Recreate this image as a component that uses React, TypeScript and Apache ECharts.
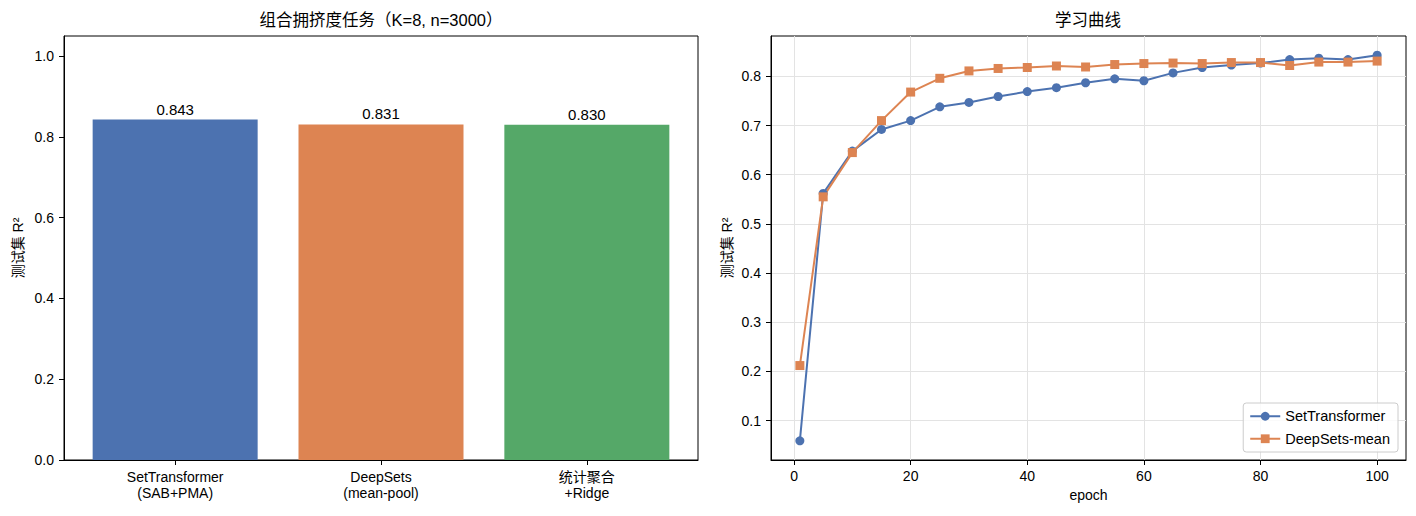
import React, { useEffect, useRef } from "react";
import * as echarts from "echarts";

const categories = ["SetTransformer\n(SAB+PMA)", "DeepSets\n(mean-pool)", "统计聚合\n+Ridge"];
const barValues = [0.843, 0.831, 0.83];
const barColors = ["#4C72B0", "#DD8452", "#55A868"];
const leftYTicks = [0, 0.2, 0.4, 0.6, 0.8, 1.0];

const epochs = [1, 5, 10, 15, 20, 25, 30, 35, 40, 45, 50, 55, 60, 65, 70, 75, 80, 85, 90, 95, 100];
const setTransformer = [0.059, 0.562, 0.648, 0.692, 0.71, 0.738, 0.747, 0.759, 0.769, 0.777, 0.787, 0.795, 0.791, 0.807, 0.818, 0.823, 0.827, 0.834, 0.837, 0.834, 0.843];
const deepSetsMean = [0.212, 0.555, 0.645, 0.71, 0.768, 0.796, 0.811, 0.816, 0.818, 0.821, 0.819, 0.824, 0.826, 0.827, 0.826, 0.828, 0.828, 0.822, 0.829, 0.829, 0.831];
const rightXTicks = [0, 20, 40, 60, 80, 100];
const rightYTicks = [0.1, 0.2, 0.3, 0.4, 0.5, 0.6, 0.7, 0.8];

const FONT = "'Liberation Sans', 'Noto Sans CJK SC', sans-serif";

export default function App() {
  const ref = useRef<HTMLDivElement>(null);
  useEffect(() => {
    document.body.style.margin = "0";
    const chart = echarts.init(ref.current!, null, { renderer: "svg" });
    const axisText = { color: "#000", fontSize: 14, fontFamily: FONT };
    const axisLine = { show: true, onZero: false, lineStyle: { color: "#000" } };
    chart.setOption({
      animation: false,
      textStyle: { fontFamily: FONT },
      graphic: [
        {
          type: "text",
          x: 381,
          y: 20,
          style: { text: "组合拥挤度任务（K=8, n=3000）", fontSize: 16.5, fontFamily: FONT, fill: "#000", align: "center", verticalAlign: "middle" },
        },
        {
          type: "text",
          x: 1088,
          y: 20,
          style: { text: "学习曲线", fontSize: 16.5, fontFamily: FONT, fill: "#000", align: "center", verticalAlign: "middle" },
        },
      ],
      grid: [
        { left: 64, right: 718, top: 36, bottom: 56, show: true, borderColor: "#000", borderWidth: 1, containLabel: false },
        { left: 771, right: 10, top: 36, bottom: 56, show: true, borderColor: "#000", borderWidth: 1, containLabel: false },
      ],
      xAxis: [
        {
          type: "value",
          gridIndex: 0,
          min: -0.54,
          max: 2.54,
          axisLine,
          axisTick: { show: true, length: 5, customValues: [0, 1, 2], lineStyle: { color: "#000" } },
          axisLabel: {
            ...axisText,
            margin: 9,
            lineHeight: 16,
            customValues: [0, 1, 2],
            formatter: (v: number) => categories[Math.round(v)] ?? "",
          },
          splitLine: { show: false },
        },
        {
          type: "value",
          gridIndex: 1,
          min: -3.95,
          max: 104.95,
          name: "epoch",
          nameLocation: "middle",
          nameGap: 28,
          nameTextStyle: { ...axisText },
          axisLine,
          axisTick: { show: true, length: 5, customValues: rightXTicks, lineStyle: { color: "#000" } },
          axisLabel: { ...axisText, margin: 9, customValues: rightXTicks, formatter: (v: number) => String(v) },
          splitLine: { show: true, lineStyle: { color: "#e3e3e3", width: 1 } },
        },
      ],
      yAxis: [
        {
          type: "value",
          gridIndex: 0,
          min: 0,
          max: 1.05,
          name: "测试集 R²",
          nameLocation: "middle",
          nameGap: 39,
          nameTextStyle: { ...axisText },
          axisLine,
          axisTick: { show: true, length: 5, customValues: leftYTicks, lineStyle: { color: "#000" } },
          axisLabel: { ...axisText, margin: 10, customValues: leftYTicks, formatter: (v: number) => v.toFixed(1) },
          splitLine: { show: false },
        },
        {
          type: "value",
          gridIndex: 1,
          min: 0.02,
          max: 0.882,
          splitNumber: 8,
          name: "测试集 R²",
          nameLocation: "middle",
          nameGap: 37,
          nameTextStyle: { ...axisText },
          axisLine,
          axisTick: { show: true, length: 5, customValues: rightYTicks, lineStyle: { color: "#000" } },
          axisLabel: { ...axisText, margin: 10, customValues: rightYTicks, formatter: (v: number) => v.toFixed(1) },
          splitLine: { show: true, lineStyle: { color: "#e3e3e3", width: 1 } },
        },
      ],
      legend: {
        right: 18,
        bottom: 64,
        orient: "vertical",
        itemWidth: 30,
        itemHeight: 11,
        itemGap: 8,
        padding: [6, 8, 6, 6],
        backgroundColor: "rgba(255,255,255,0.8)",
        borderColor: "#cccccc",
        borderWidth: 1,
        borderRadius: 3,
        textStyle: { ...axisText, fontSize: 14.5 },
        data: ["SetTransformer", "DeepSets-mean"],
      },
      series: [
        {
          type: "bar",
          xAxisIndex: 0,
          yAxisIndex: 0,
          barWidth: 165,
          data: barValues.map((v, i) => ({ value: [i, v], itemStyle: { color: barColors[i] } })),
          label: {
            show: true,
            position: "top",
            distance: 3,
            color: "#000",
            fontSize: 15,
            fontFamily: FONT,
            formatter: (p: any) => p.value[1].toFixed(3),
          },
        },
        {
          type: "line",
          name: "SetTransformer",
          xAxisIndex: 1,
          yAxisIndex: 1,
          data: epochs.map((e, i) => [e, setTransformer[i]]),
          symbol: "circle",
          symbolSize: 9,
          lineStyle: { color: "#4C72B0", width: 2 },
          itemStyle: { color: "#4C72B0" },
        },
        {
          type: "line",
          name: "DeepSets-mean",
          xAxisIndex: 1,
          yAxisIndex: 1,
          data: epochs.map((e, i) => [e, deepSetsMean[i]]),
          symbol: "rect",
          symbolSize: 9,
          lineStyle: { color: "#DD8452", width: 2 },
          itemStyle: { color: "#DD8452" },
        },
      ],
    });
    return () => chart.dispose();
  }, []);
  return <div ref={ref} style={{ width: 1416, height: 516 }} />;
}
